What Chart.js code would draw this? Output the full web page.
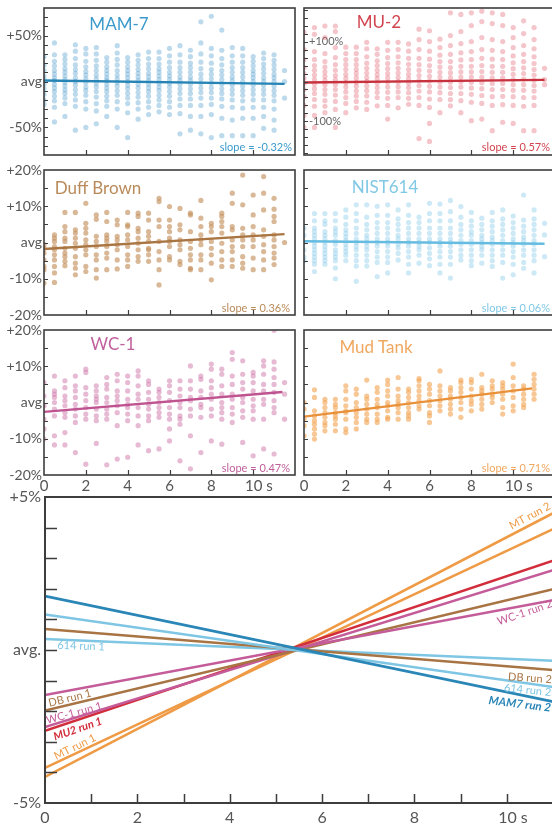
<!DOCTYPE html>
<html><head><meta charset="utf-8">
<script src="https://cdn.jsdelivr.net/npm/chart.js@4.4.1/dist/chart.umd.min.js"></script>
<style>
html,body{margin:0;padding:0;background:#fff;overflow:hidden}
#wrap{position:relative;width:552px;height:825px;overflow:hidden;font-family:Lato,'Open Sans',sans-serif}
#wrap canvas{position:absolute;left:0;top:0}
.t{position:absolute;white-space:nowrap;line-height:1}
.c{transform:translate(-50%,-50%)}
.r{transform:translateY(-50%)}
</style></head><body>
<div id="wrap">
<canvas id="p1" width="560" height="825"></canvas>
<canvas id="p2" width="560" height="825"></canvas>
<canvas id="p3" width="560" height="825"></canvas>
<canvas id="p4" width="560" height="825"></canvas>
<canvas id="p5" width="560" height="825"></canvas>
<canvas id="p6" width="560" height="825"></canvas>
<canvas id="p7" width="560" height="825"></canvas>
<div id="texts"></div>
</div>
<script>
// ---------- DATA ----------
const times = [0,0.5,1,1.5,2,2.5,3,3.5,4,4.5,5,5.5,6,6.5,7,7.5,8,8.5,9,9.5,10,10.5,11,11.5];

const mam7 = [
 [27,18,12,6,2,-3,-8,-14,-20,-25],
 [42,29,22,17,12,8,4,1,-3,-7,-11,-16,-21,-28,-44],
 [29,24,19,14,10,6,2,-1,-5,-9,-13,-18,-24,-38],
 [40,33,25,18,13,9,4,0,-4,-9,-14,-20,-27,-53],
 [36,30,22,16,11,7,3,-1,-6,-10,-15,-22,-30,-50],
 [37,30,23,17,12,7,3,-2,-6,-11,-17,-24,-32,-46],
 [26,21,16,12,8,4,1,-3,-7,-11,-16,-21,-27,-38],
 [39,31,24,18,12,7,3,-1,-5,-10,-15,-22,-30,-50],
 [26,21,16,12,8,4,0,-4,-8,-13,-18,-24,-34,-61],
 [29,23,18,13,9,5,1,-3,-7,-12,-17,-23,-30,-41],
 [32,25,19,14,9,5,1,-3,-7,-11,-16,-22,-28,-36],
 [32,25,19,14,10,6,2,-2,-6,-10,-15,-20,-26,-33],
 [36,28,21,15,10,6,2,-2,-6,-11,-16,-22,-28,-36],
 [39,29,21,15,10,5,1,-3,-8,-13,-19,-26,-35,-57],
 [34,27,20,15,10,5,1,-3,-8,-13,-19,-26,-38,-53],
 [65,42,30,21,14,8,3,-2,-7,-12,-18,-26,-38,-57],
 [71,36,28,20,13,8,3,-2,-7,-12,-18,-25,-36,-61],
 [56,34,25,18,12,7,2,-3,-8,-13,-19,-27,-40,-59],
 [37,28,21,15,10,5,1,-4,-9,-14,-20,-28,-42,-59],
 [36,28,21,15,10,5,0,-5,-10,-15,-21,-29,-40,-59],
 [27,22,17,12,8,4,0,-4,-9,-14,-20,-28,-40,-59],
 [31,25,19,14,9,4,0,-4,-9,-14,-20,-28,-38,-51],
 [29,23,18,13,8,4,0,-5,-10,-15,-21,-30,-42,-53],
 [12,0,-18]
];

const mu2 = [
 [123,80,55,35,20,8,-5,-20,-38,-60,-85,-115],
 [135,118,75,55,40,28,16,5,-6,-18,-30,-45,-62,-85,-115],
 [139,110,70,50,36,24,13,3,-8,-20,-32,-48,-62,-78],
 [139,125,85,60,42,28,15,4,-8,-20,-34,-50,-70,-115],
 [86,70,55,42,30,18,8,-3,-14,-26,-40,-55,-78],
 [86,70,55,42,30,20,9,-2,-12,-24,-36,-50,-66],
 [98,82,62,46,33,21,10,0,-11,-23,-36,-52,-70],
 [82,68,52,40,28,17,7,-4,-15,-27,-40,-61],
 [98,78,60,45,32,20,9,-2,-14,-27,-42,-60,-94],
 [98,80,62,47,33,21,10,-1,-13,-26,-40,-66],
 [94,76,58,43,30,18,7,-4,-15,-28,-42,-57],
 [131,105,80,58,42,28,15,3,-10,-24,-40,-60,-143],
 [127,100,76,56,40,26,13,1,-12,-26,-44,-65,-105,-150],
 [106,85,66,50,36,23,11,-1,-14,-28,-45,-78],
 [172,115,90,68,50,35,22,10,-2,-15,-30,-45,-61],
 [168,125,95,72,54,38,24,11,-1,-14,-30,-48,-78],
 [172,140,100,75,55,38,24,11,-2,-16,-32,-52,-98],
 [176,150,110,80,58,40,25,11,-3,-18,-35,-55,-94],
 [172,145,105,78,56,38,23,9,-5,-20,-38,-60,-123],
 [168,140,100,75,55,38,23,9,-5,-20,-37,-58,-102],
 [135,110,85,64,47,32,18,5,-8,-22,-38,-60,-105],
 [152,120,90,68,50,34,20,6,-8,-22,-40,-62,-123],
 [135,105,82,62,45,30,16,3,-10,-24,-40,-60,-123],
 [33,5,-8]
];

const duffBrown = [
 [-0.6,-1.6,-2.9,-4.8,-6.6,-7.5,-11.2],
 [2.1,1.2,0.3,-1.1,-2.0,-3.4,-4.8,-6.6,-8.4,-11.0],
 [8.3,4.4,3.0,1.2,0.3,-1.6,-2.9,-3.9,-5.2,-6.4],
 [8.3,3.5,2.6,1.2,-0.2,-1.6,-3.9,-5.7,-7.1,-8.9],
 [10.8,5.3,3.9,2.6,0.7,-0.6,-2.0,-3.4,-6.6,-8.0],
 [7.6,6.4,1.7,0.3,-1.1,-3.4,-4.8,-7.5,-9.8],
 [8.3,5.8,2.1,1.2,0.3,-1.1,-2.9,-4.3,-7.5],
 [6.2,4.9,1.7,0.7,-0.6,-2.0,-4.8,-7.3],
 [8.3,4.9,4.4,2.1,0.7,-1.1,-3.4,-4.8,-6.6],
 [8.1,7.2,3.9,3.0,1.2,-0.2,-2.0,-3.9,-5.2],
 [8.1,6.2,3.0,1.7,0.3,-1.6,-2.0,-3.4,-5.2],
 [12.2,11.3,6.2,4.4,0.3,-2.5,-4.8,-7.5,-11.7],
 [9.9,6.2,4.4,3.0,1.2,0.3,-1.1,-3.9,-4.8],
 [9.4,4.9,3.5,0.7,-0.6,-2.0,-5.2,-6.1],
 [8.1,7.6,3.0,0.3,-1.6,-3.4,-4.8,-7.1,-7.5],
 [11.6,6.7,4.4,2.1,0.7,-0.6,-3.4,-4.8,-7.5],
 [5.3,4.4,3.0,0.3,-1.6,-3.4,-5.7,-10.3],
 [8.1,7.2,5.8,4.4,2.6,-0.2,-2.5,-4.8,-6.6],
 [13.6,10.8,4.4,3.5,0.7,-1.1,-2.5,-4.8,-6.6],
 [18.6,10.4,3.9,2.1,0.7,-1.1,-3.9,-5.7,-7.1],
 [13.1,7.6,4.4,2.1,0.7,-1.1,-4.3,-7.5],
 [18.2,13.6,9.0,3.5,1.7,-0.6,-2.5,-4.8,-7.5],
 [12.2,9.2,7.2,5.8,2.1,0.7,-1.1,-2.9,-4.3,-6.1],
 [0]
];

const nist614 = [
 [4,2,0,-2,-4,-5],
 [8,6,4,3,2,1,0,-1,-2,-3,-4,-5,-6,-8],
 [8,6,5,3,2,1,0,-1,-2,-3,-4,-5,-6],
 [8,6,4,3,2,0.5,-0.5,-2,-3,-4,-5,-7,-10],
 [9,7,5,3.5,2.5,1.5,0.5,-0.5,-1.5,-2.5,-3.5,-5],
 [10.4,8,6,4,2.5,1,0,-1,-2,-3.5,-5,-6.5,-10.7],
 [10.4,7,5,3.5,2,1,0,-1,-2,-3.5,-5,-6.5],
 [10,7.5,5.5,4,2.5,1,0,-1,-2.5,-4,-5.5,-9.4],
 [10.4,7.5,5.5,4,2.5,1,0,-1,-2.5,-4,-5.5,-8.4],
 [9,6.5,5,3.5,2,1,-0.5,-1.5,-3,-4.8],
 [10.4,7.5,5.5,4,2.5,1,0,-1,-2.5,-4,-6,-8.4],
 [7,5.5,4,2.5,1,0,-1,-2,-3.5,-5.7],
 [10.8,8,6,4,2.5,1,0,-1.5,-3,-4.5,-6.4],
 [10.6,8,6,4,2.5,1,0,-1,-2.5,-4,-6,-8.4],
 [11.6,8.5,6,4,2.5,1,0,-1,-2.5,-4,-6,-9.8],
 [9.9,7,5,3.5,2,0.5,-0.5,-2,-3.5,-4.8],
 [8.3,6,4.5,3,2,0.5,-0.5,-2,-3.5,-5,-6.4],
 [6.7,5,3.5,2,1,0,-1,-2,-3.5,-5.7],
 [8.3,6,4.5,3,1.5,0.5,-0.5,-2,-3.5,-5,-6.6],
 [9.0,6.5,5,3.5,2,0.5,-0.5,-2,-3.5,-5.5,-9.8],
 [7.3,5.5,4,2.5,1,0,-1,-2.5,-4,-6,-8.9],
 [13.1,6.2,4.5,3,1.5,0.5,-0.5,-2,-3.5,-5.5,-7.1],
 [9.0,6.5,5,3.5,2,0.5,-0.5,-2,-3.5,-5,-8.4],
 [5.3,2.1,-3.9]
];

const wc1 = [
 [5.5,1.8,-0.9,-4.6,-7.3,-10.1],
 [7.3,3.2,2.3,1.4,0,-1.8,-3.7,-9.2,-11.7],
 [6.0,4.1,1.8,0.5,-0.9,-2.8,-4.1,-8.3,-11.7],
 [7.3,4.6,3.2,1.4,-0.5,-1.8,-3.7,-5.5,-13.8],
 [9.2,8.3,4.1,2.3,0.5,-1.4,-3.2,-4.6,-17.0],
 [4.6,3.2,1.8,0.9,0,-1.8,-3.7,-5.0,-11.3],
 [6.9,5.0,3.7,1.4,0,-1.8,-3.2,-4.6,-17.2],
 [7.8,6.0,3.2,1.8,0.5,-0.9,-2.8,-6.4,-15.6],
 [7.3,5.5,3.2,0.9,-0.5,-1.4,-3.2,-5.0,-15.1],
 [8.7,7.3,4.6,2.3,0.9,-1.4,-3.7,-6.4,-11.7],
 [6.0,5.0,2.8,0.9,-0.5,-1.8,-3.7,-5.0,-13.3],
 [3.7,2.8,1.4,0,-1.4,-2.8,-4.1,-12.8],
 [6.0,4.6,2.8,0.5,-1.4,-3.2,-4.6,-7.3,-10.6],
 [6.0,3.7,1.8,0,-1.4,-3.7,-4.6,-6.0,-16.1],
 [10.1,6.0,3.7,1.4,0.5,-1.8,-3.7,-9.2,-18.3],
 [7.3,6.4,3.2,1.4,-0.5,-1.4,-4.1,-13.8],
 [10.6,9.2,6.0,4.1,2.3,0.9,-1.8,-3.7,-10.6],
 [9.2,7.8,4.6,2.3,0,-1.4,-2.8,-4.6,-11.5],
 [13.8,11.9,7.3,5.0,2.3,0.9,-1.4,-3.2,-5.5],
 [11.5,7.8,5.5,3.7,1.4,0,-2.3,-4.1,-11.0],
 [8.3,7.3,5.5,3.2,0.9,-0.9,-2.3,-4.6,-14.7],
 [11.5,10.1,7.8,5.0,3.2,0.9,-0.5,-4.6,-12.8],
 [19.9,11.2,9.2,6.9,5.0,2.8,0.5,-1.4,-2.8,-14.2],
 [5.5,2.3,-4.6]
];

const mudTank = [
 [0,-1.8,-4.6,-6.4,-9.2],
 [3.5,1.4,-2.3,-3.7,-5.0,-6.0,-7.3,-8.7,-10.1],
 [0.9,0,-1.4,-2.8,-4.1,-5.5,-6.4,-7.8],
 [0.9,-0.5,-1.4,-2.8,-3.7,-4.6,-6.0,-7.8],
 [4.6,3.2,0.9,-0.9,-2.3,-2.8,-4.6,-7.3,-8.3],
 [3.7,2.3,0,-1.4,-2.8,-4.1,-5.5,-7.3],
 [6.2,1.8,0.9,-0.5,-1.8,-3.2,-4.6,-5.5],
 [4.1,2.8,0.9,-0.5,-1.4,-3.2,-4.6,-5.5],
 [6.2,5.0,3.2,1.8,0,-0.9,-2.3,-4.1,-4.6],
 [6.9,3.7,1.8,0.5,-0.5,-1.4,-2.8,-4.6],
 [3.7,2.8,1.4,0,-1.4,-2.8,-3.7,-4.6],
 [6.6,6.0,4.6,3.2,1.8,0.5,-0.9,-1.8],
 [5.0,3.7,2.3,0.5,-0.9,-2.8,-3.7,-5.5],
 [8.7,4.6,3.2,1.8,0.5,-0.9,-2.3],
 [4.1,3.2,1.8,0.9,-0.5,-1.8,-3.2],
 [6.2,5.5,4.1,2.8,1.4,0,-1.8,-4.1],
 [6.4,5.5,3.7,1.8,0.5,-0.5,-2.3],
 [7.8,4.1,3.2,2.3,0.9,-0.5,-1.8],
 [6.0,4.6,3.7,2.3,1.4,0],
 [5.5,4.6,3.7,2.3,0.9,-1.4,-3.2],
 [10.6,6.9,4.6,3.2,1.4,-0.9,-2.3],
 [4.6,3.7,2.3,0.9,-0.5,-1.4],
 [7.8,6.4,5.0,3.7,2.3,0.9]
];

// regression lines of the six panels (value at t=0, value at end time)
const fitY0 = [1.1, -2.5, -1.8, 0.35, -2.6, -3.9];
const fitY1 = [-2.6, 4.0, 2.3, -0.35, 2.9, 3.9];
const fitX1 = [11.5, 11.5, 11.5, 11.5, 11.4, 10.9];
const panelNames = ['MAM-7', 'MU-2', 'Duff Brown', 'NIST614', 'WC-1', 'Mud Tank'];
const slopeTexts = ['slope = -0.32%', 'slope = 0.57%', 'slope = 0.36%', 'slope = 0.06%', 'slope = 0.47%', 'slope = 0.71%'];

// y tick labels
const tickVals50 = [-50, 0, 50];      const tickText50 = ['-50%', 'avg', '+50%'];
const tickVals100 = [-100, 100];      const tickText100 = ['-100%', '+100%'];
const tickVals20 = [-20, -10, 0, 10, 20]; const tickText20 = ['-20%', '-10%', 'avg', '+10%', '+20%'];
const tickVals5 = [-5, 0, 5];         const tickText5 = ['-5%', 'avg.', '+5%'];
const xTickVals = [0, 2, 4, 6, 8, 10]; const xTickText = ['0', '2', '4', '6', '8', '   10 s'];

// bottom panel: run trend lines (value at t=0 and at t=11 s)
const runNames = ['MAM7 run 2', '614 run 2', 'DB run 2', '614 run 1', 'WC-1 run 2', 'DB run 1', 'WC-1 run 1', 'MU2 run 1', 'MT run 1', 'MT run 2'];
const runStart = [1.76, 1.16, 0.69, 0.36, -1.47, -1.98, -2.52, -2.64, -3.85, -4.15];
const runEnd = [-1.69, -1.21, -0.65, -0.35, 1.63, 1.99, 2.61, 2.92, 3.95, 4.47];
const runEndTime = 11;

// ---------- STYLE ----------
const FONT = "Lato, 'Open Sans', sans-serif";
const CW = 560, CH = 825;
const panelStyle = [
  {dot: 'rgba(62,146,198,0.34)', line: '#2584b5', title: '#3c9bcb'},
  {dot: 'rgba(218,62,78,0.30)', line: '#c8323e', title: '#d24550'},
  {dot: 'rgba(196,146,96,0.65)', line: '#a97543', title: '#b98a5a'},
  {dot: 'rgba(118,195,230,0.36)', line: '#65bce0', title: '#80c8e6'},
  {dot: 'rgba(205,110,165,0.48)', line: '#bf5390', title: '#c0609c'},
  {dot: 'rgba(242,164,84,0.62)', line: '#e8913a', title: '#f0a860'}
];
const runColor = {
  'MAM7': '#2a86b6', '614': '#7ec6e3', 'DB': '#a87444', 'WC-1': '#c45c99', 'MU2': '#d22d3b', 'MT': '#ef9a45'
};
function colorOf(name) { return runColor[name.split(' ')[0]]; }

function frame(o) {
  return {
    id: 'frame',
    afterDatasetsDraw(chart) {
      const {ctx, chartArea: a, scales: {x, y}} = chart;
      ctx.save();
      ctx.strokeStyle = '#3d3d3d';
      ctx.lineWidth = o.tickWidth || 1.2;
      ctx.beginPath();
      const s = o.yStep;
      for (let v = Math.ceil((y.min + 1e-6) / s) * s; v < y.max - 1e-6; v += s) {
        const py = Math.round(y.getPixelForValue(v)) + 0.5;
        ctx.moveTo(a.left, py); ctx.lineTo(a.left + o.yLen, py);
      }
      for (const v of o.xTicks) {
        const px = Math.round(x.getPixelForValue(v)) + 0.5;
        ctx.moveTo(px, a.bottom); ctx.lineTo(px, a.bottom - o.xLen);
      }
      ctx.stroke();
      ctx.lineWidth = o.lineWidth || 1.6;
      ctx.strokeRect(a.left, a.top, a.right - a.left, a.bottom - a.top);
      ctx.restore();
    }
  };
}

function fixY(w) { return s => { s.width = w; s.paddingTop = 0; s.paddingBottom = 0; s.paddingLeft = 0; s.paddingRight = 0; }; }
function fixX(h) { return s => { s.height = h; s.paddingTop = 0; s.paddingBottom = 0; s.paddingLeft = 0; s.paddingRight = 0; }; }

function makePanel(canvasId, idx, cols, area, cfg) {
  const st = panelStyle[idx];
  const yW = cfg.yLabels ? (cfg.mirror ? 0 : cfg.yW) : 0;
  const xH = cfg.xLabels ? cfg.xH : 0;
  const pts = [];
  cols.forEach((c, i) => c.forEach(v => pts.push({x: times[i], y: v})));
  new Chart(document.getElementById(canvasId), {
    type: 'scatter',
    data: {datasets: [
      {data: [{x: 0, y: fitY0[idx]}, {x: fitX1[idx], y: fitY1[idx]}], showLine: true, borderColor: st.line, borderWidth: 2.3, pointRadius: 0, order: 0},
      {data: pts, backgroundColor: st.dot, borderWidth: 0, pointRadius: 2.6, order: 1}
    ]},
    options: {
      responsive: false, animation: false, devicePixelRatio: 1,
      layout: {padding: {left: area.l - yW, top: area.t, right: CW - area.r, bottom: CH - area.b - xH}},
      plugins: {legend: {display: false}, tooltip: {enabled: false}},
      scales: {
        x: {type: 'linear', min: 0, max: cfg.xMax, display: !!cfg.xLabels,
            grid: {display: false, drawTicks: false}, border: {display: false},
            afterBuildTicks: s => { s.ticks = xTickVals.map(v => ({value: v})); },
            afterFit: fixX(xH),
            ticks: {autoSkip: false, maxRotation: 0, padding: 2, color: '#555', font: {family: FONT, size: 15},
                    callback: v => xTickText[xTickVals.indexOf(v)]}},
        y: {type: 'linear', min: cfg.yMin, max: cfg.yMax, display: !!cfg.yLabels,
            grid: {display: false, drawTicks: false}, border: {display: false},
            afterBuildTicks: s => { if (cfg.yLabels) s.ticks = cfg.yLabels[0].map(v => ({value: v})); },
            afterFit: fixY(yW),
            ticks: {autoSkip: false, mirror: !!cfg.mirror, padding: cfg.mirror ? 5 : 2,
                    color: cfg.mirror ? '#666' : '#555', font: {family: FONT, size: cfg.mirror ? 11 : 14},
                    callback: v => cfg.yLabels ? cfg.yLabels[1][cfg.yLabels[0].indexOf(v)] : ''}}
      }
    },
    plugins: [frame({yStep: cfg.yStep, yLen: 4, xTicks: [2, 4, 6, 8, 10], xLen: 5})]
  });
}

makePanel('p1', 0, mam7, {l: 44, t: 8, r: 295, b: 155}, {xMax: 12, yMin: -80, yMax: 80, yStep: 10, yLabels: [tickVals50, tickText50], yW: 44});
makePanel('p2', 1, mu2, {l: 304, t: 8, r: 555, b: 155}, {xMax: 12, yMin: -184, yMax: 184, yStep: 20, yLabels: [tickVals100, tickText100], mirror: true});
makePanel('p3', 2, duffBrown, {l: 44, t: 170, r: 295, b: 315}, {xMax: 12, yMin: -20, yMax: 20, yStep: 5, yLabels: [tickVals20, tickText20], yW: 44});
makePanel('p4', 3, nist614, {l: 304, t: 170, r: 555, b: 315}, {xMax: 12, yMin: -20, yMax: 20, yStep: 5});
makePanel('p5', 4, wc1, {l: 44, t: 330, r: 295, b: 475}, {xMax: 12, yMin: -20, yMax: 20, yStep: 5, yLabels: [tickVals20, tickText20], yW: 44, xLabels: true, xH: 22});
makePanel('p6', 5, mudTank, {l: 304, t: 330, r: 555, b: 475}, {xMax: 12, yMin: -20, yMax: 20, yStep: 5, xLabels: true, xH: 22});

// bottom panel
const runLabelSpecs = [
  {text: '614 run 1', x: 0.78, y: 0.13, angle: 2, font: '11px ' + FONT},
  {text: 'DB run 1', x: 0.54, y: -1.57, angle: -14, font: '11px ' + FONT},
  {text: 'WC-1 run 1', x: 0.63, y: -2.06, angle: -15, font: '11px ' + FONT},
  {text: 'MU2 run 1', x: 0.71, y: -2.58, angle: -19, font: 'italic bold 11px ' + FONT},
  {text: 'MT run 1', x: 0.65, y: -3.17, angle: -26, font: '11px ' + FONT},
  {text: 'MT run 2', x: 10.5, y: 4.38, angle: -28, font: '11px ' + FONT},
  {text: 'WC-1 run 2', x: 10.39, y: 1.22, angle: -19, font: '11px ' + FONT},
  {text: 'DB run 2', x: 10.5, y: -0.92, angle: 4, font: '11px ' + FONT},
  {text: '614 run 2', x: 10.45, y: -1.31, angle: 6, font: '11px ' + FONT},
  {text: 'MAM7 run 2', x: 10.28, y: -1.77, angle: 7, font: 'italic bold 11.5px ' + FONT}
];
const labelPlugin = {
  id: 'runLabels',
  afterDatasetsDraw(chart) {
    const {ctx, scales: {x, y}} = chart;
    for (const it of runLabelSpecs) {
      ctx.save();
      ctx.translate(x.getPixelForValue(it.x), y.getPixelForValue(it.y));
      ctx.rotate(it.angle * Math.PI / 180);
      ctx.font = it.font; ctx.fillStyle = colorOf(it.text);
      ctx.textAlign = 'center'; ctx.textBaseline = 'middle';
      ctx.fillText(it.text, 0, 0);
      ctx.restore();
    }
  }
};
const bArea = {l: 45, t: 497, r: 553, b: 803};
const bYW = 45, bXH = 28;
new Chart(document.getElementById('p7'), {
  type: 'scatter',
  data: {datasets: runNames.map((n, i) => ({
    data: [{x: 0, y: runStart[i]}, {x: runEndTime, y: runEnd[i]}],
    showLine: true, borderColor: colorOf(n), borderWidth: n.startsWith('MAM7') ? 2.8 : 2.5, pointRadius: 0
  }))},
  options: {
    responsive: false, animation: false, devicePixelRatio: 1,
    layout: {padding: {left: bArea.l - bYW, top: bArea.t, right: CW - bArea.r, bottom: CH - bArea.b - bXH}},
    plugins: {legend: {display: false}, tooltip: {enabled: false}},
    scales: {
      x: {type: 'linear', min: 0, max: 11, grid: {display: false, drawTicks: false}, border: {display: false},
          afterBuildTicks: s => { s.ticks = xTickVals.map(v => ({value: v})); },
          afterFit: fixX(bXH),
          ticks: {autoSkip: false, maxRotation: 0, padding: 5, color: '#555', font: {family: FONT, size: 16},
                  callback: v => xTickText[xTickVals.indexOf(v)]}},
      y: {type: 'linear', min: -5, max: 5, grid: {display: false, drawTicks: false}, border: {display: false},
          afterBuildTicks: s => { s.ticks = tickVals5.map(v => ({value: v})); },
          afterFit: fixY(bYW),
          ticks: {autoSkip: false, padding: 4, color: '#555', font: {family: FONT, size: 16},
                  callback: v => tickText5[tickVals5.indexOf(v)]}}
    }
  },
  plugins: [frame({yStep: 1, yLen: 12, xTicks: [1, 2, 3, 4, 5, 6, 7, 8, 9, 10], xLen: 9, lineWidth: 2, tickWidth: 1.5}), labelPlugin]
});

// panel titles and slope notes
const titlePos = [[119, 23], [379, 21], [98, 187], [385, 186], [113, 343], [376, 346]];
const slopePos = [[260, 146], [2, 146], [262, 307], [2, 307], [262, 467], [2, 467]];
const texts = document.getElementById('texts');
panelNames.forEach((n, i) => {
  const d = document.createElement('div');
  d.className = 't c';
  d.style.left = titlePos[i][0] + 'px'; d.style.top = titlePos[i][1] + 'px';
  d.style.fontSize = '17px'; d.style.color = panelStyle[i].title;
  d.textContent = n;
  texts.appendChild(d);
  const s = document.createElement('div');
  s.className = 't r';
  s.style.right = slopePos[i][0] + 'px'; s.style.top = slopePos[i][1] + 'px';
  s.style.fontSize = '11px'; s.style.color = panelStyle[i].title;
  s.textContent = slopeTexts[i];
  texts.appendChild(s);
});
</script>
</body></html>
